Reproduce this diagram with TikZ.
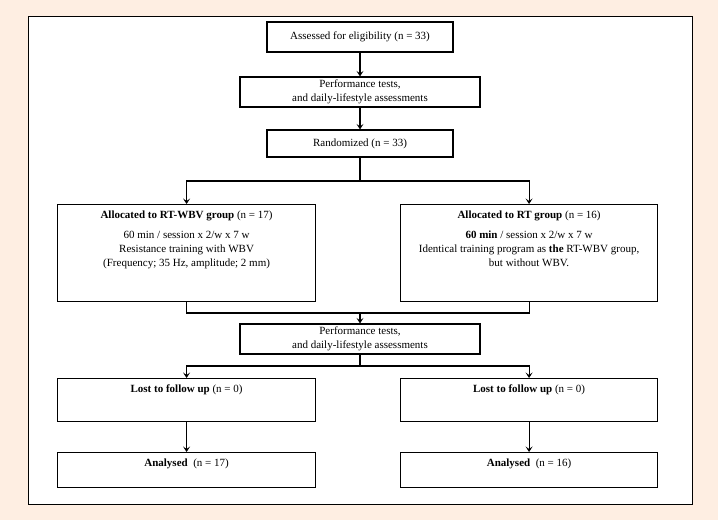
\documentclass[tikz,border=0pt]{standalone}
\usepackage{fontspec}
\setmainfont{Liberation Serif}
\usetikzlibrary{arrows.meta}
\definecolor{peach}{HTML}{FEEEE2}
\tikzset{
  boxnode/.style={draw=black, line width=1.15pt, fill=white, inner sep=0pt},
  txt/.style={align=center, font=\fontsize{11}{13.8}\selectfont, inner sep=0pt},
  conn/.style={line width=1.1pt},
  arr/.style={line width=1.1pt, -{Stealth[length=5.5pt,width=7pt,inset=2.5pt]}},
}
\begin{document}
\begin{tikzpicture}[x=1pt,y=-1pt]
\fill[peach] (0,0) rectangle (718,520);
\useasboundingbox (0,0) rectangle (718,520);
\node[draw=black, line width=1pt, fill=white, minimum width=664pt, minimum height=488pt, anchor=north west, inner sep=0pt] (frame) at (28,16) {};
% top chain
\node[boxnode, txt, minimum width=186pt, minimum height=30pt] (b1) at (360,37) {Assessed for eligibility (n = 33)};
\node[boxnode, txt, minimum width=240pt, minimum height=30pt] (b2) at (360,92) {Performance tests,\\and daily-lifestyle assessments};
\node[boxnode, txt, minimum width=186pt, minimum height=27pt] (b3) at (360,143.5) {Randomized (n = 33)};
% group boxes
\node[boxnode, minimum width=258pt, minimum height=97pt, anchor=north west] (lg) at (57,204) {};
\node[txt, anchor=north] (lgt) at ([yshift=-7pt]lg.north) {\textbf{Allocated to RT-WBV group} (n = 17)\\[6pt]60 min / session x 2/w x 7 w\\Resistance training with WBV\\(Frequency; 35 Hz, amplitude; 2 mm)};
\node[boxnode, minimum width=257pt, minimum height=97pt, anchor=north west] (rg) at (400,204) {};
\node[txt, anchor=north] (rgt) at ([yshift=-7pt]rg.north) {\textbf{Allocated to RT group} (n = 16)\\[6pt]\textbf{60 min} / session x 2/w x 7 w\\Identical training program as \textbf{the} RT-WBV group,\\but without WBV.};
% second assessment
\node[boxnode, txt, minimum width=240pt, minimum height=30pt] (b5) at (360,339) {Performance tests,\\and daily-lifestyle assessments};
% lost
\node[boxnode, minimum width=258pt, minimum height=43pt, anchor=north west] (ll) at (57,378) {};
\node[txt, anchor=north] (llt) at ([yshift=-7pt]ll.north) {\textbf{Lost to follow up} (n = 0)};
\node[boxnode, minimum width=257pt, minimum height=43pt, anchor=north west] (rl) at (400,378) {};
\node[txt, anchor=north] (rlt) at ([yshift=-7pt]rl.north) {\textbf{Lost to follow up} (n = 0)};
% analysed
\node[boxnode, minimum width=258pt, minimum height=35pt, anchor=north west] (la) at (57,452) {};
\node[txt, anchor=north] (lat) at ([yshift=-7pt]la.north) {\textbf{Analysed}\ \ (n = 17)};
\node[boxnode, minimum width=257pt, minimum height=35pt, anchor=north west] (ra) at (400,452) {};
\node[txt, anchor=north] (rat) at ([yshift=-7pt]ra.north) {\textbf{Analysed}\ \ (n = 16)};
% coordinates
\coordinate (s1) at (360,181);
\coordinate (m1) at (360,313);
\coordinate (s2) at (360,366);
% connectors
\draw[arr] (b1) -- (b2);
\draw[arr] (b2) -- (b3);
\draw[conn] (b3) -- (s1);
\draw[arr] (s1) -| (lg.north);
\draw[arr] (s1) -| (rg.north);
\draw[conn] (lg.south) |- (m1);
\draw[conn] (rg.south) |- (m1);
\draw[arr] (m1) -- (b5);
\draw[conn] (b5) -- (s2);
\draw[arr] (s2) -| (ll.north);
\draw[arr] (s2) -| (rl.north);
\draw[arr] (ll) -- (la);
\draw[arr] (rl) -- (ra);
\end{tikzpicture}
\end{document}
